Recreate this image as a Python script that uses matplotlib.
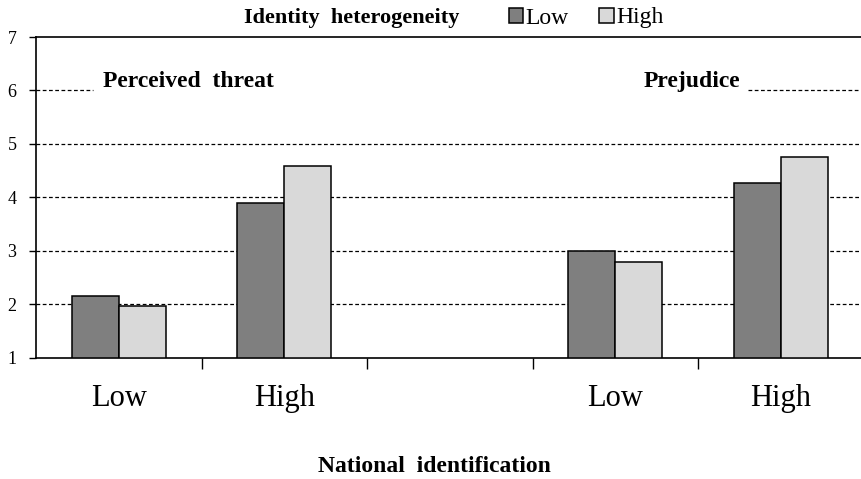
import matplotlib.pyplot as plt
import numpy as np

plt.rcParams['font.family'] = ['Liberation Serif', 'DejaVu Serif']

# national identification levels for each panel
levels = ["Low", "High"]
panels = ["Perceived  threat", "Prejudice"]
# identity heterogeneity: low / high
threat_low = [2.15, 3.90]
threat_high = [1.97, 4.58]
prej_low = [3.00, 4.27]
prej_high = [2.79, 4.76]
yticks = [1, 2, 3, 4, 5, 6, 7]

fig = plt.figure(figsize=(8.61, 4.79), dpi=100)
ax = fig.add_axes([36 / 861, 1 - 357.7 / 479, 5 * 165.5 / 861, (357.7 - 37) / 479])

w = 0.285
slots_t = np.array([0.5, 1.5])
slots_p = np.array([3.5, 4.5])
dark, light = "#7f7f7f", "#d9d9d9"
b1 = ax.bar(slots_t - w / 2, np.array(threat_low) - 1, w, bottom=1, color=dark,
            edgecolor="black", lw=1.1, zorder=3, label="Low")
b2 = ax.bar(slots_t + w / 2, np.array(threat_high) - 1, w, bottom=1, color=light,
            edgecolor="black", lw=1.1, zorder=3, label="High")
ax.bar(slots_p - w / 2, np.array(prej_low) - 1, w, bottom=1, color=dark,
       edgecolor="black", lw=1.1, zorder=3)
ax.bar(slots_p + w / 2, np.array(prej_high) - 1, w, bottom=1, color=light,
       edgecolor="black", lw=1.1, zorder=3)

ax.set_xlim(0, 5)
ax.set_ylim(1, 7)

# dashed grid, the 6 line broken by the panel labels
for y in [2, 3, 4, 5]:
    ax.axhline(y, color="black", lw=0.9, ls=(0, (3, 2)), zorder=1)
ax.plot([0, 0.345], [6, 6], color="black", lw=0.9, ls=(0, (3, 2)), zorder=1)
ax.plot([4.30, 5], [6, 6], color="black", lw=0.9, ls=(0, (3, 2)), zorder=1)

ax.text(0.405, 6.17, panels[0], fontsize=17, fontweight="bold", ha="left", va="center")
ax.text(4.255, 6.17, panels[1], fontsize=17, fontweight="bold", ha="right", va="center")

for s in ["left", "bottom", "top"]:
    ax.spines[s].set_linewidth(1.2)
ax.spines["right"].set_visible(False)

ax.set_yticks(yticks)
ax.tick_params(axis="y", direction="out", length=5, width=1, labelsize=13, pad=9)
ax.set_xticks([1, 2, 3, 4])
ax.set_xticklabels([])
ax.tick_params(axis="x", which="major", direction="out", length=8, width=1)
ax.set_xticks(np.concatenate([slots_t, slots_p]), minor=True)
ax.set_xticklabels(levels + levels, minor=True, fontsize=22)
ax.tick_params(axis="x", which="minor", length=0, pad=19)

fig.text(352 / 861, 1 - 18 / 479, "Identity  heterogeneity", fontsize=16,
         fontweight="bold", ha="center", va="center")
fig.legend(handles=[b1, b2], labels=["Low", "High"], loc="center left",
           bbox_to_anchor=(509 / 861, 1 - 18 / 479), ncol=2, frameon=False,
           fontsize=17, handlelength=0.6, handleheight=0.6, handletextpad=0.1,
           columnspacing=1.3, borderpad=0, borderaxespad=0)

fig.text(434 / 861, 1 - 467 / 479, "National  identification", fontsize=17,
         fontweight="bold", ha="center", va="center")

fig.savefig("out.png", dpi=100)
